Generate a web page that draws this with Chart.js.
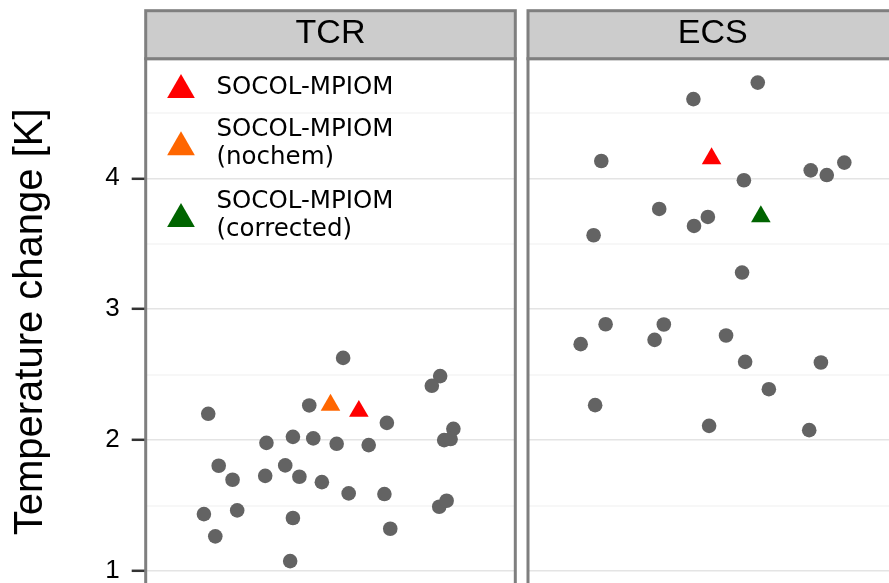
<!DOCTYPE html>
<html>
<head>
<meta charset="utf-8">
<script src="https://cdn.jsdelivr.net/npm/chart.js@4.4.1/dist/chart.umd.min.js"></script>
<style>
  html, body { margin: 0; padding: 0; background: #ffffff; overflow: hidden; width: 889px; height: 583px; }
  canvas { position: absolute; top: 0; }
  #tcr { left: 0; }
  #ecs { left: 520px; }
</style>
</head>
<body>
<canvas id="tcr" width="520" height="620"></canvas>
<canvas id="ecs" width="400" height="620"></canvas>
<script>
// Facet titles and y-axis ticks
const facets = ['TCR', 'ECS'];
const yTicks = [1, 2, 3, 4];
const yMinorTicks = [1.5, 2.5, 3.5, 4.5];
const yTitle = 'Temperature change [K]';

// CMIP5 models (grey dots); x is the horizontal jitter around the facet centre (1)
const tcrModelX = [1.041, 1.356, 1.329, 0.603, 0.931, 1.183, 0.792, 0.878, 0.944, 1.020,
                   1.124, 1.399, 1.369, 1.390, 0.637, 0.682, 0.788, 0.853, 0.899, 0.972,
                   1.059, 1.175, 1.353, 1.377, 0.589, 0.697, 0.878, 0.626, 1.194, 0.869];
const tcrModelY = [2.628, 2.489, 2.415, 2.201, 2.265, 2.132, 1.979, 2.025, 2.013, 1.972,
                   1.962, 2.086, 2.000, 2.008, 1.804, 1.697, 1.727, 1.807, 1.720, 1.679,
                   1.593, 1.588, 1.491, 1.537, 1.435, 1.463, 1.405, 1.265, 1.323, 1.076];

const ecsModelX = [1.146, 0.937, 0.638, 1.318, 1.370, 1.427, 1.101, 0.826, 0.984, 0.939,
                   0.613, 1.095, 0.652, 0.841, 0.571, 0.811, 1.043, 1.105, 1.351, 1.182,
                   0.618, 0.988, 1.313];
const ecsModelY = [4.731, 4.605, 4.132, 4.061, 4.025, 4.120, 3.985, 3.766, 3.705, 3.636,
                   3.565, 3.280, 2.885, 2.883, 2.733, 2.766, 2.799, 2.598, 2.593, 2.389,
                   2.267, 2.109, 2.076];

// SOCOL-MPIOM runs (null where the run has no value in that facet)
const socolNames  = ['SOCOL-MPIOM', 'SOCOL-MPIOM\n(nochem)', 'SOCOL-MPIOM\n(corrected)'];
const socolColors = ['#ff0000', '#ff6600', '#006400'];
const tcrSocolX = [1.092, 1.000, null];
const tcrSocolY = [2.221, 2.267, null];
const ecsSocolX = [0.996, null, 1.156];
const ecsSocolY = [4.151, null, 3.708];

// Shared y range: data range plus 5% on each side
const allY = [...tcrModelY, ...ecsModelY, ...tcrSocolY, ...ecsSocolY].filter(v => v !== null);
const yLo = Math.min(...allY), yHi = Math.max(...allY);
const yMin = yLo - 0.05 * (yHi - yLo);
const yMax = yHi + 0.05 * (yHi - yLo);

const SANS = '"Liberation Sans", Arial, Helvetica, sans-serif';
const GRID_MAJOR = '#e4e4e4';
const GRID_MINOR = '#f7f7f7';
const FRAME = '#7f7f7f';

function isMajor(v) { return yTicks.some(t => Math.abs(t - v) < 1e-9); }

function buildDatasets(mx, my, sx, sy) {
  const sets = [{
    label: 'CMIP5',
    data: mx.map((x, i) => ({ x: x, y: my[i] })),
    backgroundColor: '#636363',
    borderWidth: 0,
    pointRadius: 7.3,
    order: 2
  }];
  socolNames.forEach((name, i) => {
    if (sx[i] === null) return;
    sets.push({
      label: name,
      data: [{ x: sx[i], y: sy[i] }],
      pointStyle: 'triangle',
      backgroundColor: socolColors[i],
      borderWidth: 0,
      pointRadius: 11.3,
      order: 1
    });
  });
  return sets;
}

function triangle(ctx, x, y, r, color) {
  ctx.beginPath();
  for (let k = 0; k < 3; k++) {
    const a = k * 2 * Math.PI / 3;
    const px = x + Math.sin(a) * r, py = y - Math.cos(a) * r;
    if (k === 0) ctx.moveTo(px, py); else ctx.lineTo(px, py);
  }
  ctx.closePath();
  ctx.fillStyle = color;
  ctx.fill();
}

// Facet strip, in-panel legend and panel frame
const facetPlugin = {
  id: 'facet',
  afterDatasetsDraw(chart, args, opts) {
    const ctx = chart.ctx;
    const { left, right, top, bottom } = chart.chartArea;
    ctx.save();
    if (opts.legend) {
      const rowKeyY = [90, 147.3, 218.9];
      const rowTextY = [94.3, 136, 208.3];
      const lineH = 27.5;
      ctx.font = '24.5px "DejaVu Sans", sans-serif';
      ctx.textAlign = 'left';
      ctx.textBaseline = 'alphabetic';
      socolNames.forEach((name, i) => {
        triangle(ctx, 181, rowKeyY[i], 16, socolColors[i]);
        ctx.fillStyle = '#000000';
        name.split('\n').forEach((line, j) => ctx.fillText(line, 216.5, rowTextY[i] + j * lineH));
      });
    }
    ctx.strokeStyle = FRAME;
    ctx.lineWidth = 3;
    ctx.strokeRect(left, top, right - left, bottom - top);
    ctx.restore();
  },
  afterDraw(chart, args, opts) {
    const ctx = chart.ctx;
    const { left, right, top } = chart.chartArea;
    const stripTop = 10.7;
    ctx.save();
    ctx.fillStyle = '#cccccc';
    ctx.fillRect(left, stripTop, right - left, top - stripTop);
    ctx.strokeStyle = FRAME;
    ctx.lineWidth = 3;
    ctx.strokeRect(left, stripTop, right - left, top - stripTop);
    ctx.fillStyle = '#000000';
    ctx.font = '34px ' + SANS;
    ctx.textAlign = 'center';
    ctx.textBaseline = 'middle';
    ctx.fillText(opts.label, (left + right) / 2, 34);
    ctx.restore();
  }
};

function makeChart(id, facet, datasets, showAxis, axisWidth, padRight, withLegend) {
  return new Chart(document.getElementById(id), {
    type: 'scatter',
    data: { datasets: datasets },
    plugins: [facetPlugin],
    options: {
      responsive: false,
      animation: false,
      devicePixelRatio: 1,
      events: [],
      layout: { autoPadding: false, padding: { left: 0, right: padRight, top: 58.7, bottom: 35 } },
      scales: {
        x: { type: 'linear', min: 0.4, max: 1.6, display: false },
        y: {
          type: 'linear',
          position: 'left',
          min: yMin,
          max: yMax,
          afterBuildTicks(scale) {
            scale.ticks = [...yTicks, ...yMinorTicks].sort((a, b) => a - b).map(v => ({ value: v }));
          },
          afterFit(scale) { scale.width = axisWidth; },
          border: { display: false },
          grid: {
            color: c => isMajor(c.tick.value) ? GRID_MAJOR : GRID_MINOR,
            lineWidth: c => isMajor(c.tick.value) ? 1.6 : 2,
            drawTicks: showAxis,
            tickLength: 14,
            tickWidth: 2.5,
            tickColor: c => isMajor(c.tick.value) ? '#333333' : 'rgba(0,0,0,0)'
          },
          ticks: {
            display: showAxis,
            padding: 12,
            color: '#000000',
            font: { family: SANS, size: 26 },
            callback: v => isMajor(v) ? String(v) : ''
          },
          title: {
            display: showAxis,
            text: yTitle,
            color: '#000000',
            font: { family: SANS, size: 40 },
            padding: { top: 7, bottom: 0 }
          }
        }
      },
      plugins: {
        legend: { display: false },
        tooltip: { enabled: false },
        facet: { label: facet, legend: withLegend }
      }
    }
  });
}

makeChart('tcr', facets[0], buildDatasets(tcrModelX, tcrModelY, tcrSocolX, tcrSocolY), true, 145.7, 520 - 515.3, true);
makeChart('ecs', facets[1], buildDatasets(ecsModelX, ecsModelY, ecsSocolX, ecsSocolY), false, 8, 400 - 377.6, false);
</script>
</body>
</html>
